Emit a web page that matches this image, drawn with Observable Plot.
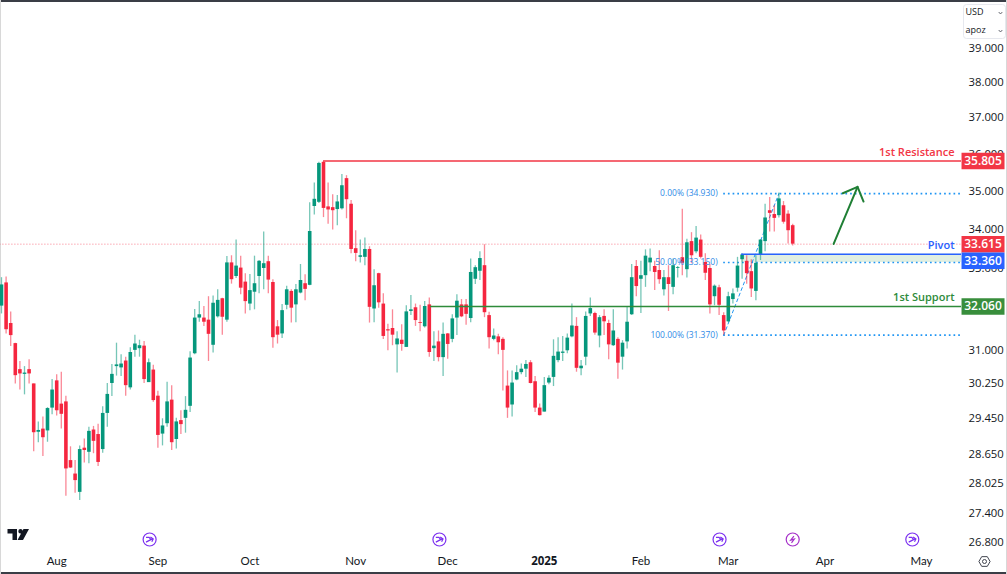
<!DOCTYPE html>
<html>
<head>
<meta charset="utf-8">
<script src="https://cdn.jsdelivr.net/npm/d3@7"></script>
<script src="https://cdn.jsdelivr.net/npm/@observablehq/plot@0.6"></script>
<style>
html,body{margin:0;padding:0;background:#fff;overflow:hidden}
#wrap{position:relative;width:1007px;height:574px;overflow:hidden}
#wrap svg{position:absolute;left:0;top:0;background:transparent}
.edge{position:absolute;background:#3a3e46}
</style>
</head>
<body>
<div id="wrap">
<div class="edge" style="left:0;right:0;top:0;height:2px"></div>
<div class="edge" style="left:0;right:0;bottom:0;height:2px"></div>
<div class="edge" style="left:0;top:0;bottom:0;width:1px;background:#d8d8d8"></div>
<div class="edge" style="right:0;top:0;bottom:0;width:1px;background:#d8d8d8"></div>
</div>
<script>
// --- candle data (one value per trading session) ---
const direction =
  "GRRRRGRRGR"+"GGRRRRRGRG"+"RRGGGGGRGG"+"GRGRRGGRGR"+"GGGGRRGGRG"+"RGRRGGGGRR"+"RGGRGGRGGG"+"RRRGGRRRGG"+
  "RGRRRRGRGG"+"RRGRGRGRGG"+"RRGGGRRGRR"+"RGGGGRRRGG"+"GGGGGRGGGR"+"GRRGRGGGRG"+"GGRRGRGGRG"+"RGRRRGRRGG"+"GGRRGGGRRGRRR";
const highs = [
32.77,32.79,31.93,31.18,30.75,30.63,30.79,30.23,29.37,29.48,
29.69,30.33,30.44,30.50,29.95,28.82,28.52,28.84,28.99,29.25,
29.27,29.32,29.71,30.24,30.68,31.18,30.91,30.85,31.07,31.37,
31.25,31.22,30.81,30.66,30.06,29.44,30.27,30.19,29.45,29.62,
29.94,30.98,31.99,32.18,32.06,32.30,32.32,32.47,32.26,33.30,
33.32,33.72,33.31,32.87,32.85,33.31,33.20,33.93,33.31,32.72,
31.72,32.11,32.56,32.47,32.60,33.10,32.84,34.69,35.21,35.77,
35.79,35.21,34.90,34.88,35.44,35.41,34.75,33.96,33.72,33.77,
33.55,32.97,32.88,32.37,31.63,31.98,31.45,31.62,32.08,32.33,
32.12,32.09,32.18,32.27,31.45,31.47,31.66,31.41,31.86,32.35,
32.23,32.23,33.24,33.07,33.42,33.60,31.92,31.52,31.39,31.31,
30.53,30.53,30.65,30.69,30.77,30.77,30.40,29.77,30.38,30.42,
31.26,31.31,31.34,31.40,32.12,31.79,30.77,31.93,32.27,31.92,
31.84,31.98,31.73,31.98,31.31,31.24,32.04,33.10,33.20,33.18,
33.47,33.49,33.18,33.45,32.95,33.07,33.24,33.05,34.52,33.74,
33.91,34.07,33.85,33.37,33.10,32.59,32.58,31.91,32.41,32.49,
33.28,33.37,33.32,33.22,33.32,33.72,34.65,34.83,34.61,34.95,34.72,34.48,34.13];
const bodyTop = [
32.59,32.64,31.65,31.17,30.56,30.48,30.56,30.23,29.18,29.21,
29.67,30.09,30.30,29.77,29.82,28.52,28.23,28.76,28.79,29.16,
29.19,29.09,29.56,29.99,30.45,30.67,30.69,30.76,30.96,31.16,
31.12,31.11,30.72,30.55,29.95,29.28,29.82,29.86,29.37,29.40,
29.63,30.83,31.78,31.86,31.78,31.73,32.14,32.21,32.25,33.14,
33.14,33.06,33.01,32.66,32.45,32.62,33.18,33.12,33.17,32.65,
31.57,31.96,32.47,32.43,32.47,32.70,32.62,33.94,34.78,35.74,
35.77,34.58,34.56,34.71,35.14,35.33,34.65,33.50,33.32,33.48,
33.48,32.57,32.87,32.12,31.50,31.53,31.28,31.25,31.93,31.98,
32.03,31.67,32.06,32.10,31.11,31.21,31.39,31.40,31.76,32.19,
32.10,32.10,32.90,33.02,33.25,33.07,31.84,31.35,31.33,31.27,
30.18,30.25,30.49,30.57,30.68,30.72,30.28,29.68,30.19,30.36,
30.87,30.97,30.97,31.30,31.59,31.58,30.64,31.82,32.01,31.89,
31.79,31.82,31.65,31.47,31.27,31.18,31.68,32.77,33.05,32.82,
33.31,33.26,33.05,32.95,32.77,32.77,33.07,33.02,33.27,33.65,
33.68,33.77,33.72,33.15,33.00,32.56,32.52,31.84,32.30,32.37,
33.06,33.34,33.18,32.92,33.13,33.72,34.29,34.48,34.38,34.79,34.61,34.39,34.09];
const bodyBottom = [
32.07,31.50,31.36,30.42,30.46,30.45,30.46,29.13,29.14,29.02,
29.17,29.68,29.62,29.54,28.34,28.36,28.09,27.84,28.74,28.70,
28.94,28.48,28.76,29.56,30.24,30.63,30.60,30.19,30.14,31.01,
31.05,30.33,30.26,29.85,29.07,29.10,29.33,28.91,28.98,29.31,
29.45,29.72,30.93,31.78,31.68,31.39,31.13,31.81,31.80,31.73,
32.72,32.80,32.51,32.18,32.12,32.41,32.80,33.00,32.71,31.31,
31.37,31.40,32.09,32.02,32.10,32.39,32.48,32.58,34.59,34.70,
34.54,34.50,34.48,34.51,34.53,34.77,33.48,33.38,33.28,33.28,
32.04,32.00,32.15,31.34,31.47,31.37,31.14,31.15,31.08,31.94,
31.72,31.65,31.57,30.96,31.05,30.84,30.84,31.15,31.27,31.78,
31.81,31.87,31.77,32.73,32.93,31.91,31.31,31.27,31.19,31.01,
29.68,29.75,30.32,30.49,30.57,30.24,29.68,29.51,29.59,30.25,
30.38,30.77,30.94,31.00,31.33,30.59,30.58,30.85,31.88,31.42,
31.35,31.69,31.14,31.12,30.71,30.85,31.21,31.86,32.55,32.73,
32.82,33.14,32.90,32.72,32.47,32.60,32.53,33.00,33.13,32.97,
33.32,33.42,33.28,32.88,32.10,32.30,32.09,31.47,31.69,32.23,
32.51,33.22,32.87,32.49,32.43,33.35,33.68,34.41,34.28,34.35,34.18,33.96,33.615];
const lows = [
31.88,31.40,31.10,30.23,30.09,29.98,30.23,28.71,28.91,28.61,
28.92,29.53,29.50,29.21,27.76,28.35,27.82,27.67,28.47,28.45,
28.67,28.39,28.68,29.25,29.94,30.41,30.40,29.95,30.09,30.85,
30.85,30.24,30.26,29.81,28.79,28.84,29.25,28.74,28.77,29.09,
29.12,29.58,30.91,31.68,31.58,30.75,30.95,31.78,31.37,31.68,
32.61,32.75,32.35,31.88,31.96,31.98,32.37,32.47,32.37,31.06,
31.16,31.29,31.98,31.66,31.67,32.37,32.20,32.57,34.37,34.67,
34.30,34.13,33.98,34.09,34.50,34.27,33.37,33.17,33.14,33.07,
31.66,31.67,32.02,31.27,31.00,31.12,30.48,30.99,31.08,31.84,
31.58,31.45,31.54,30.85,30.75,30.74,30.40,30.80,31.19,31.36,
31.79,31.61,31.67,32.60,32.70,31.79,31.04,31.24,30.91,30.07,
29.45,29.48,30.30,30.44,30.38,30.23,29.58,29.50,29.59,30.21,
30.17,30.72,30.75,30.93,31.31,30.50,30.42,30.65,31.82,31.37,
31.07,31.36,30.79,31.10,30.34,30.55,31.04,31.84,32.30,31.89,
32.53,32.92,32.45,32.61,32.32,31.94,32.35,32.76,32.82,32.76,
33.12,33.37,33.24,32.70,31.88,32.08,31.84,31.37,31.67,32.12,
32.41,32.73,32.61,32.28,32.20,33.20,33.42,33.93,33.93,34.29,34.13,33.62,33.57];

// --- axes ---
const yTicks = [39,38,37,36,35,34,33,31,30.25,29.45,28.65,28.025,27.4,26.8];
const monthLabels = ["Aug","Sep","Oct","Nov","Dec","Feb","Mar","Apr","May"];
const monthPositions = [12,34,54,77,97,139,158,179,200];
const yearLabel = "2025";
const yearPosition = 118;

// --- levels ---
const resistance = 35.805, pivot = 33.36, support = 32.06, lastPrice = 33.615;
const fibLevels = [34.93, 33.15, 31.37];
const fibNames = ["0.00% (34.930)", "50.00% (33.150)", "100.00% (31.370)"];
const fibStart = 157, fibEnd = 169, rightEnd = 208.7;
const resistanceStart = 70, supportStart = 93.3, pivotStart = 160.9;
const arrowShaftX = [180.9, 186.1], arrowShaftY = [33.62, 35.11];
const arrowHeadX = [182.9, 186.1, 187.4], arrowHeadY = [34.94, 35.11, 34.72];
const eventPositions = [32.2, 95.2, 156.1, 198];
const dividendPosition = 172;

const candles = highs.map((h,i)=>({i,high:h,low:lows[i],top:bodyTop[i],bottom:bodyBottom[i],up:direction[i]==="G"}));
const GREEN="#05977c", RED="#f5263f";
const FONT="'Open Sans', sans-serif";

const sym = draw => ({draw});
const rectSym = (w,h)=>sym(c=>{c.rect(-w/2,-h/2,w,h);});
const tag = (value,color,dy)=>[
  Plot.dot([value],{x:rightEnd,y:d=>d,dx:21.5,dy,symbol:rectSym(43,16.5),fill:color,stroke:"none"}),
  Plot.text([value],{x:rightEnd,y:d=>d,dx:21.5,dy,text:d=>d3.format(".3f")(d),fill:"#fff",fontSize:12,fontWeight:600,fontFamily:FONT})
];
const eventSym = sym(c=>{
  c.moveTo(6.5,0);c.arc(0,0,6.5,0,2*Math.PI);
  c.moveTo(-3.6,-2.2);c.lineTo(-0.5,-2.2);c.lineTo(1.5,0.3);c.moveTo(-3.6,2.6);c.lineTo(3.2,-0.9);
  c.moveTo(0.8,-2.6);c.lineTo(3.6,-0.6);c.lineTo(2.2,2.2);
});
const boltSym = sym(c=>{
  c.moveTo(6.5,0);c.arc(0,0,6.5,0,2*Math.PI);
  c.moveTo(1.2,-3.4);c.lineTo(-2,0.6);c.lineTo(1.6,-0.4);c.lineTo(-1.2,3.4);
});
const logoSym = sym(c=>{
  c.moveTo(-10.5,-5.5);c.lineTo(-1,-5.5);c.lineTo(-1,5.5);c.lineTo(-5.5,5.5);c.lineTo(-5.5,-1);c.lineTo(-10.5,-1);c.closePath();
  c.moveTo(4.5,-3.2);c.arc(2.5,-3.2,2.2,0,2*Math.PI);
  c.moveTo(5.5,-5.5);c.lineTo(11,-5.5);c.lineTo(5,5.5);c.lineTo(-0.5,5.5);c.closePath();
});
const gearSym = sym(c=>{
  const r=5.6;
  for(let k=0;k<6;k++){const a=k*Math.PI/3;c[k?"lineTo":"moveTo"](r*Math.cos(a),r*Math.sin(a));}
  c.closePath();
  c.moveTo(2,0);c.arc(0,0,2,0,2*Math.PI);
});
const boxSym = sym(c=>{
  c.moveTo(-18,-17);c.lineTo(18,-17);c.quadraticCurveTo(21,-17,21,-14);c.lineTo(21,14);c.quadraticCurveTo(21,17,18,17);
  c.lineTo(-18,17);c.quadraticCurveTo(-21,17,-21,14);c.lineTo(-21,-14);c.quadraticCurveTo(-21,-17,-18,-17);c.closePath();
});
const chevSym = sym(c=>{c.moveTo(-1.8,-1);c.lineTo(0,1);c.lineTo(1.8,-1);});

const chart = Plot.plot({
  width:1007,height:574,
  marginTop:0,marginLeft:0,marginRight:46,marginBottom:22,
  style:{background:"transparent",fontFamily:FONT},
  x:{type:"linear",domain:[0,200],range:[1,921]},
  y:{type:"log",domain:[39,26.8],range:[48,542]},
  marks:[
    // axes
    Plot.axisY(yTicks,{anchor:"right",tickSize:0,tickPadding:7,tickFormat:d3.format(".3f"),fontSize:11.3,fill:"#131722",textAnchor:"start",label:null}),
    Plot.axisX(monthPositions,{anchor:"bottom",tickSize:0,tickPadding:4,tickFormat:d=>monthLabels[monthPositions.indexOf(d)],fontSize:11.5,fill:"#131722",fontFamily:"Lato, sans-serif",label:null}),
    Plot.axisX([yearPosition],{anchor:"bottom",tickSize:0,tickPadding:4,tickFormat:()=>yearLabel,fontSize:11.5,fontWeight:700,fill:"#131722",fontFamily:FONT,label:null}),

    // pivot zone and price line
    Plot.rect([0],{x1:pivotStart,x2:rightEnd,y1:pivot,y2:fibLevels[1],fill:"#e1efe2"}),
    Plot.ruleY([lastPrice],{x1:-1,x2:rightEnd,stroke:RED,strokeOpacity:0.6,strokeWidth:1,strokeDasharray:"1,2"}),

    // fib drawing
    Plot.line(fibLevels.slice(0).filter((_,k)=>k!==1).reverse(),{x:(d,k)=>k?fibEnd:fibStart,y:d=>d,stroke:"#2196f3",strokeWidth:1,strokeDasharray:"3,3"}),
    Plot.ruleY(fibLevels,{x1:fibStart,x2:rightEnd,stroke:"#2196f3",strokeWidth:1.7,strokeDasharray:"1.7,3"}),

    // candles
    Plot.ruleX(candles,{x:"i",y1:"low",y2:"high",stroke:d=>d.up?GREEN:RED,strokeOpacity:0.55,strokeWidth:1.3}),
    Plot.ruleX(candles,{x:"i",y1:"bottom",y2:"top",stroke:d=>d.up?GREEN:RED,strokeWidth:3.6}),

    Plot.text(fibLevels,{x:fibStart-1.3,y:d=>d,text:(d,k)=>fibNames[k],textAnchor:"end",fill:"#2f8be6",fontSize:8.5,fontFamily:FONT}),

    // support / resistance
    Plot.ruleY([resistance],{x1:resistanceStart,x2:rightEnd,stroke:"#f23645",strokeWidth:1.5}),
    Plot.ruleY([support],{x1:supportStart,x2:rightEnd,stroke:"#2e8b3a",strokeWidth:1.5}),
    Plot.ruleY([pivot],{x1:pivotStart,x2:rightEnd,stroke:"#2962ff",strokeWidth:1.5}),
    Plot.text(["1st Resistance"],{x:rightEnd,y:[resistance],dx:-7,dy:-9,text:d=>d,textAnchor:"end",fill:"#f23645",fontSize:11,fontWeight:600}),
    Plot.text(["Pivot"],{x:rightEnd,y:[pivot],dx:-7,dy:-9,text:d=>d,textAnchor:"end",fill:"#2962ff",fontSize:11,fontWeight:600}),
    Plot.text(["1st Support"],{x:rightEnd,y:[support],dx:-7,dy:-9,text:d=>d,textAnchor:"end",fill:"#2e8b3a",fontSize:11,fontWeight:600}),

    // arrow
    Plot.line(arrowShaftX,{x:d=>d,y:(d,k)=>arrowShaftY[k],stroke:"#1f7f35",strokeWidth:2}),
    Plot.line(arrowHeadX,{x:d=>d,y:(d,k)=>arrowHeadY[k],stroke:"#1f7f35",strokeWidth:2}),

    // price tags
    ...tag(resistance,"#f23645",0),
    ...tag(lastPrice,"#f23645",0),
    ...tag(pivot,"#2962ff",6.5),
    ...tag(support,"#388e3c",0),

    // event icons, logo, small controls
    Plot.dot(eventPositions,{x:d=>d,frameAnchor:"bottom",dy:-13,symbol:eventSym,fill:"none",stroke:"#7b2ff0",strokeWidth:1.2}),
    Plot.dot([dividendPosition],{x:d=>d,frameAnchor:"bottom",dy:-13,symbol:boltSym,fill:"none",stroke:"#a52fc9",strokeWidth:1.2}),
    Plot.dot([0],{frameAnchor:"bottom-left",dx:17.5,dy:-18,symbol:logoSym,fill:"#131722",stroke:"none"}),
    Plot.dot([0],{frameAnchor:"bottom-right",dx:23,dy:9,symbol:gearSym,fill:"none",stroke:"#434651",strokeWidth:1}),
    Plot.dot([0],{frameAnchor:"top-right",dx:23,dy:21,symbol:boxSym,fill:"#fff",stroke:"#e6e8ee",strokeWidth:1}),
    Plot.text(["USD"],{frameAnchor:"top-right",lineAnchor:"middle",dx:4,dy:12,text:d=>d,textAnchor:"start",fontSize:9,fill:"#131722"}),
    Plot.text(["apoz"],{frameAnchor:"top-right",lineAnchor:"middle",dx:4,dy:30,text:d=>d,textAnchor:"start",fontSize:9,fill:"#131722"}),
    Plot.dot([0],{frameAnchor:"top-right",dx:39,dy:12.5,symbol:chevSym,fill:"none",stroke:"#434651",strokeWidth:0.8}),
    Plot.dot([0],{frameAnchor:"top-right",dx:39,dy:30.5,symbol:chevSym,fill:"none",stroke:"#434651",strokeWidth:0.8})
  ]
});
document.getElementById("wrap").appendChild(chart);
</script>
</body>
</html>
